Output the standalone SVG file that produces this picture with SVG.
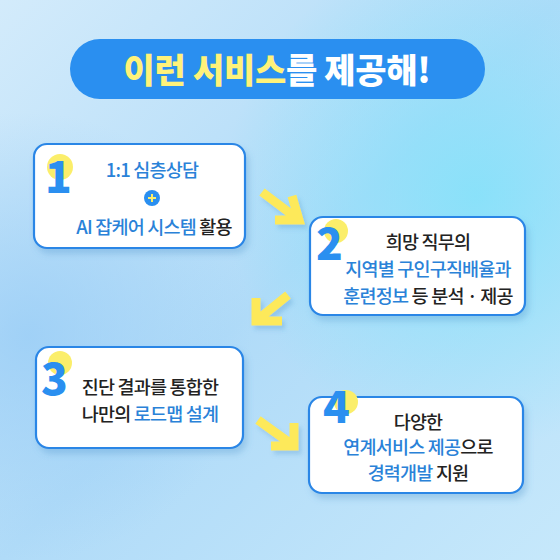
<svg xmlns="http://www.w3.org/2000/svg" width="560" height="560" viewBox="0 0 560 560">
<defs>
<linearGradient id="bg" x1="0" y1="0" x2="1" y2="1">
<stop offset="0" stop-color="#d3ebfb"/>
<stop offset="0.5" stop-color="#b0dbf8"/>
<stop offset="1" stop-color="#c6e8fb"/>
</linearGradient>
<radialGradient id="cy" cx="0.85" cy="0.35" r="0.45">
<stop offset="0" stop-color="#7fe2fa" stop-opacity="0.8"/>
<stop offset="1" stop-color="#7fe2fa" stop-opacity="0"/>
</radialGradient>
<radialGradient id="lb" cx="0.05" cy="0.6" r="0.4">
<stop offset="0" stop-color="#99cdf6" stop-opacity="0.8"/>
<stop offset="1" stop-color="#99cdf6" stop-opacity="0"/>
</radialGradient>
<filter id="sh" x="-10%" y="-10%" width="130%" height="140%">
<feDropShadow dx="3" dy="5" stdDeviation="3" flood-color="#4a8fc8" flood-opacity="0.3"/>
</filter>
<filter id="ash" x="-30%" y="-30%" width="170%" height="170%">
<feDropShadow dx="3" dy="4" stdDeviation="2" flood-color="#3f86c0" flood-opacity="0.25"/>
</filter>
<style>
.box{fill:#ffffff;stroke:#2b86e6;stroke-width:2.2}
.t{font-family:"Noto Sans CJK KR","Noto Sans",sans-serif;font-size:18.5px;font-weight:500;letter-spacing:-0.8px;fill:#222;text-anchor:middle}
.b{fill:#2a82d8}
.num{font-family:"Noto Sans CJK KR","Open Sans",sans-serif;font-size:44px;font-weight:900;fill:#2a8ff0}
.dot{fill:#fbee6a}
.arr{fill:none;stroke:#fde95a;stroke-width:9;stroke-linecap:butt;stroke-linejoin:miter}
</style>
</defs>
<rect width="560" height="560" fill="url(#bg)"/>
<rect width="560" height="560" fill="url(#cy)"/>
<rect width="560" height="560" fill="url(#lb)"/>

<g id="title">
<rect x="70" y="39" width="415" height="60" rx="30" fill="#2a8ff0"/>
<text x="277" y="83" text-anchor="middle" font-family="Noto Sans CJK KR, sans-serif" font-size="34" font-weight="900" letter-spacing="-0.3" fill="#ffffff"><tspan fill="#fff27a">이런 서비스</tspan>를 제공해!</text>
</g>

<g id="connectors" filter="url(#ash)">
<path class="arr" d="M262,192 L299,220 M275,220 L299,220 L292,196"/>
<path class="arr" d="M288,295 L256,321 M256,298 L256,321 L282,321"/>
<path class="arr" d="M258,420 L294,446 M271,446 L294,446 L294,423"/>
</g>

<g id="node1">
<rect class="box" x="34" y="144" width="211" height="104" rx="13" filter="url(#sh)"/>
<circle class="dot" cx="60" cy="167" r="13"/>
<text class="num" x="45" y="193">1</text>
<text class="t b" x="152" y="177">1:1 심층상담</text>
<circle cx="152" cy="198" r="8" fill="#2a8ff0"/>
<path d="M148,198 H156 M152,194 V202" stroke="#fbee6a" stroke-width="2"/>
<text class="t" x="154" y="234"><tspan class="b">AI 잡케어 시스템</tspan> 활용</text>
</g>

<g id="node2">
<rect class="box" x="310" y="217" width="215" height="98" rx="13" filter="url(#sh)"/>
<circle class="dot" cx="336" cy="231" r="12"/>
<text class="num" x="316" y="260">2</text>
<text class="t" x="428" y="249">희망 직무의</text>
<text class="t b" x="428" y="276">지역별 구인구직배율과</text>
<text class="t" x="428" y="303"><tspan class="b">훈련정보</tspan> 등 분석 · 제공</text>
</g>

<g id="node3">
<rect class="box" x="36" y="347" width="207" height="101" rx="13" filter="url(#sh)"/>
<circle class="dot" cx="60" cy="363" r="12"/>
<text class="num" x="41" y="395">3</text>
<text class="t" x="150" y="394">진단 결과를 통합한</text>
<text class="t" x="150" y="421">나만의 <tspan class="b">로드맵 설계</tspan></text>
</g>

<g id="node4">
<rect class="box" x="309" y="397" width="214" height="96" rx="13" filter="url(#sh)"/>
<circle class="dot" cx="346" cy="402" r="12"/>
<text class="num" x="323" y="423">4</text>
<text class="t" x="418" y="429">다양한</text>
<text class="t" x="418" y="454"><tspan class="b">연계서비스 제공</tspan>으로</text>
<text class="t" x="418" y="480"><tspan class="b">경력개발</tspan> 지원</text>
</g>
</svg>
